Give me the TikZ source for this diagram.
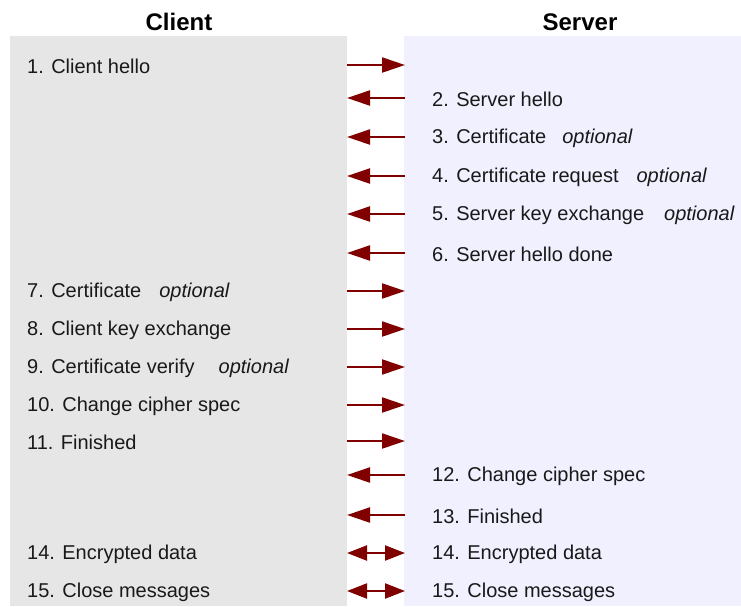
\documentclass[tikz,border=0pt]{standalone}
\usepackage{fontspec}
\setmainfont{Liberation Sans}
\usetikzlibrary{arrows.meta}
\definecolor{clientbg}{HTML}{E6E6E6}
\definecolor{serverbg}{HTML}{F0F0FF}
\definecolor{msgred}{HTML}{800000}
\begin{document}
\begin{tikzpicture}[x=1pt,y=-1pt,
  heading/.style={font=\fontsize{24}{28}\selectfont\bfseries, inner sep=0pt},
  msg/.style={font=\fontsize{20}{24}\selectfont, anchor=west, inner sep=0pt, text=black!90},
  head/.tip={Triangle[length=23pt,width=15pt]},
  shorthead/.tip={Triangle[length=20pt,width=15pt]},
  flow/.style={draw=msgred, line width=2.2pt, -head},
  twoway/.style={draw=msgred, line width=2.2pt, shorthead-shorthead}]
\useasboundingbox (0,0) rectangle (741,606);
% panels
\fill[clientbg] (10,36) rectangle (347,606);
\fill[serverbg] (404,36) rectangle (741,606);
% headings
\node[heading] (client) at (179,22) {Client};
\node[heading] (server) at (580,22) {Server};
% edge points of each message row
\foreach \n/\y in {1/65,2/98,3/137,4/176,5/214,6/253,7/291,8/329,9/367,10/405,11/441,12/475,13/515,14/553,15/591}{
  \coordinate (c\n) at (347,\y);
  \coordinate (s\n) at (405,\y);
}
% client messages
\node[msg] (m1) at (27,66) {1. Client hello};
\node[msg] (m7) at (27,292) {7. Certificate\hspace{18pt}{\itshape optional}};
\node[msg] (m8) at (27,330) {8. Client key exchange};
\node[msg] (m9) at (27,368) {9. Certificate verify\hspace{24pt}{\itshape optional}};
\node[msg] (m10) at (27,406) {10. Change cipher spec};
\node[msg] (m11) at (27,442) {11. Finished};
\node[msg] (m14c) at (27,554) {14. Encrypted data};
\node[msg] (m15c) at (27,592) {15. Close messages};
% server messages
\node[msg] (m2) at (432,99) {2. Server hello};
\node[msg] (m3) at (432,138) {3. Certificate\hspace{16pt}{\itshape optional}};
\node[msg] (m4) at (432,177) {4. Certificate request\hspace{18pt}{\itshape optional}};
\node[msg] (m5) at (432,215) {5. Server key exchange\hspace{20pt}{\itshape optional}};
\node[msg] (m6) at (432,254) {6. Server hello done};
\node[msg] (m12) at (432,476) {12. Change cipher spec};
\node[msg] (m13) at (432,516) {13. Finished};
\node[msg] (m14s) at (432,554) {14. Encrypted data};
\node[msg] (m15s) at (432,592) {15. Close messages};
% client to server
\foreach \n in {1,7,8,9,10,11}{ \draw[flow] (c\n) -- (s\n); }
% server to client
\foreach \n in {2,3,4,5,6,12,13}{ \draw[flow] (s\n) -- (c\n); }
% both ways
\draw[twoway] (c14) -- (s14);
\draw[twoway] (c15) -- (s15);
\end{tikzpicture}
\end{document}
